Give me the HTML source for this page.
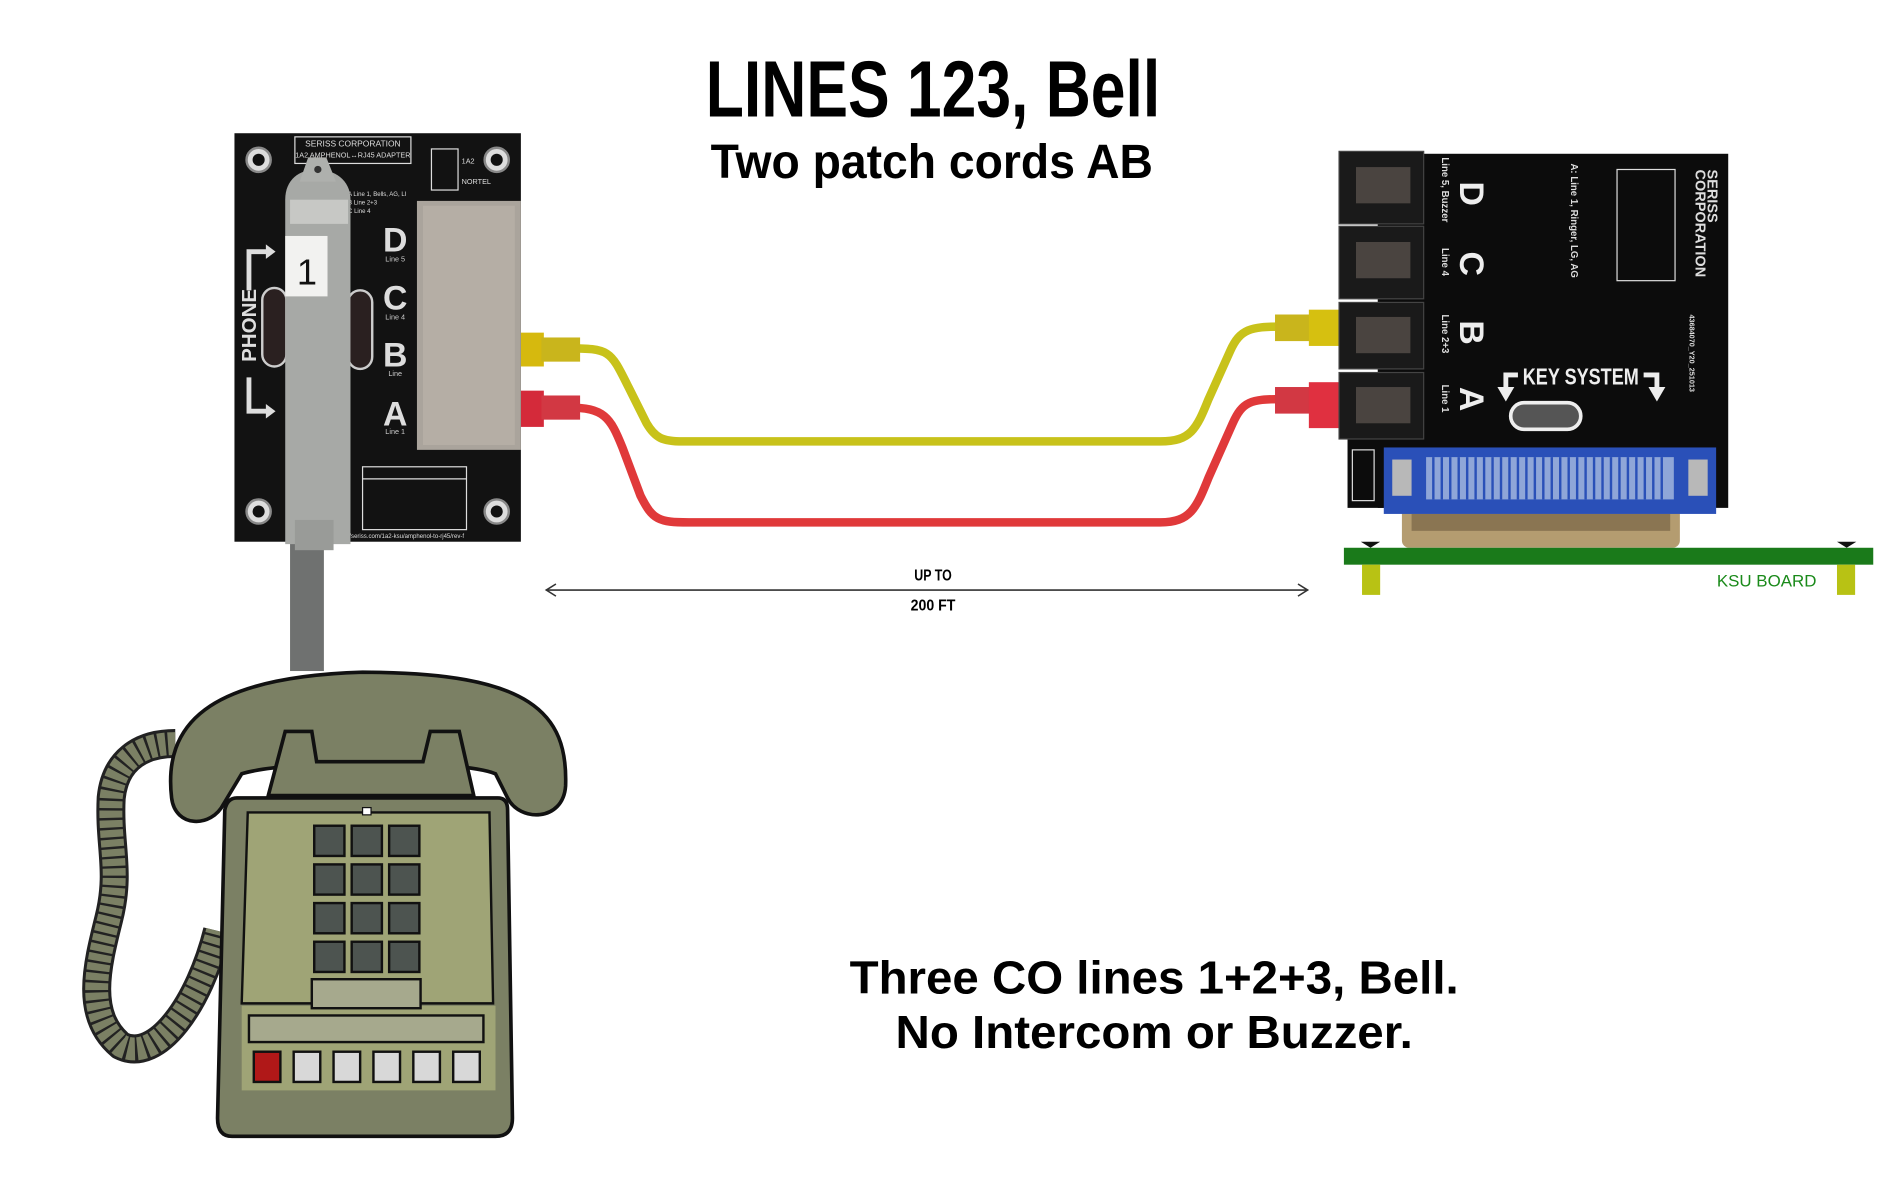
<!DOCTYPE html>
<html><head><meta charset="utf-8"><style>
html,body{margin:0;padding:0;background:#fff;width:1895px;height:1191px;overflow:hidden}
svg{display:block}
text{font-family:"Liberation Sans",sans-serif}
</style></head><body>
<svg width="1895" height="1191" viewBox="0 0 1568 985" xmlns="http://www.w3.org/2000/svg">
<rect width="1568" height="985" fill="#fff"/>
<text x="772" y="96" text-anchor="middle" font-size="66" font-weight="bold" textLength="376" lengthAdjust="spacingAndGlyphs">LINES 123, Bell</text>
<text x="771" y="147" text-anchor="middle" font-size="40" font-weight="bold" textLength="366" lengthAdjust="spacingAndGlyphs">Two patch cords AB</text>

<path d="M470,288 C505,288 505,290 520,320 L535,350 C542,362 548,365 565,365 L960,365 C985,365 990,355 1000,330 L1018,290 C1026,272 1035,270 1060,270 L1080,270" fill="none" stroke="#c8c21a" stroke-width="7"/>
<path d="M470,337 C500,337 505,345 515,370 L530,410 C540,430 545,432 570,432 L960,432 C985,432 990,420 1000,395 L1020,350 C1028,332 1035,330 1060,330 L1080,330" fill="none" stroke="#e0393a" stroke-width="7"/>
<rect x="430" y="275" width="20" height="28" fill="#d6b90e"/>
<rect x="448" y="279" width="32" height="20" fill="#c9b51c"/>
<rect x="430" y="323" width="20" height="30" fill="#d42a3a"/>
<rect x="448" y="327" width="32" height="20" fill="#d23843"/>
<rect x="1055" y="260" width="30" height="22" fill="#c9b51c"/>
<rect x="1083" y="256" width="25" height="30" fill="#d6c010"/>
<rect x="1055" y="320" width="30" height="22" fill="#d23843"/>
<rect x="1083" y="316" width="25" height="38" fill="#e03040"/>

<rect x="194" y="110" width="237" height="338" fill="#121212"/>
<g fill="#ddd" stroke="#888" stroke-width="2">
<circle cx="214" cy="132" r="10"/><circle cx="411" cy="132" r="10"/>
<circle cx="214" cy="423" r="10"/><circle cx="411" cy="423" r="10"/>
</g>
<g fill="#111"><circle cx="214" cy="132" r="5"/><circle cx="411" cy="132" r="5"/><circle cx="214" cy="423" r="5"/><circle cx="411" cy="423" r="5"/></g>
<rect x="244" y="113" width="96" height="22" fill="none" stroke="#ddd" stroke-width="1"/>
<text x="292" y="121" text-anchor="middle" font-size="7" fill="#ddd">SERISS CORPORATION</text>
<text x="292" y="130" text-anchor="middle" font-size="6" fill="#ddd">1A2 AMPHENOL↔RJ45 ADAPTER</text>
<rect x="357" y="123" width="22" height="34" fill="none" stroke="#ddd"/>
<text x="382" y="135" font-size="6" fill="#ddd">1A2</text>
<text x="382" y="152" font-size="6" fill="#ddd">NORTEL</text>
<text x="288" y="162" font-size="5" fill="#ddd">A Line 1, Bells, AG, LI</text>
<text x="288" y="169" font-size="5" fill="#ddd">B Line 2+3</text>
<text x="288" y="176" font-size="5" fill="#ddd">C Line 4</text>
<rect x="217" y="238" width="20" height="65" rx="10" fill="#2a2020" stroke="#ccc" stroke-width="2"/>
<rect x="288" y="240" width="20" height="65" rx="10" fill="#2a2020" stroke="#ccc" stroke-width="2"/>
<text x="218" y="275" font-size="17" font-weight="bold" fill="#ddd" transform="rotate(-90 212 275)" text-anchor="middle">PHONE</text>
<path d="M206,240 V208 H222" fill="none" stroke="#ddd" stroke-width="4"/><path d="M220,202 L228,208 L220,214Z" fill="#ddd"/>
<path d="M206,312 V340 H222" fill="none" stroke="#ddd" stroke-width="4"/><path d="M220,334 L228,340 L220,346Z" fill="#ddd"/>
<g fill="#ddd" font-weight="bold" font-size="28" text-anchor="middle">
<text x="327" y="208">D</text><text x="327" y="256">C</text><text x="327" y="303">B</text><text x="327" y="352">A</text></g>
<g fill="#ccc" font-size="6" text-anchor="middle"><text x="327" y="216">Line 5</text><text x="327" y="264">Line 4</text><text x="327" y="311">Line</text><text x="327" y="359">Line 1</text></g>
<rect x="345" y="166" width="86" height="206" fill="#aaa49c"/>
<rect x="350" y="170" width="76" height="198" fill="#b5aea5"/>
<rect x="300" y="386" width="86" height="52" fill="none" stroke="#ddd"/>
<line x1="300" y1="396" x2="386" y2="396" stroke="#ddd"/>
<text x="278" y="445" font-size="5" fill="#ddd">http://seriss.com/1a2-ksu/amphenol-to-rj45/rev-f</text>
<rect x="240" y="440" width="28" height="115" fill="#6f7170"/>
<path d="M236,450 L236,165 C236,148 248,140 262,140 C276,140 290,148 290,165 L290,450 Z" fill="#a7a9a6"/>
<path d="M248,150 L255,130 L270,130 L278,150 Z" fill="#aeb0ad"/>
<circle cx="263" cy="140" r="3" fill="#333"/>
<rect x="240" y="165" width="48" height="20" fill="#c7c8c5"/>
<rect x="236" y="195" width="35" height="50" fill="#f2f2f0"/>
<text x="254" y="235" text-anchor="middle" font-size="30" fill="#111">1</text>
<rect x="244" y="430" width="32" height="25" fill="#999b98"/>

<rect x="1140" y="127" width="290" height="293" fill="#0c0c0c"/>
<rect x="1115" y="350" width="30" height="70" fill="#0c0c0c"/>
<g fill="#1a1a1a" stroke="#444">
<rect x="1108" y="125" width="70" height="60"/><rect x="1108" y="187" width="70" height="60"/>
<rect x="1108" y="250" width="70" height="55"/><rect x="1108" y="308" width="70" height="55"/></g>
<g fill="#4a4440"><rect x="1122" y="138" width="45" height="30"/><rect x="1122" y="200" width="45" height="30"/><rect x="1122" y="262" width="45" height="30"/><rect x="1122" y="320" width="45" height="30"/></g>
<g fill="#eee" font-weight="bold" font-size="28" text-anchor="middle">
<text transform="translate(1208 160) rotate(90)">D</text>
<text transform="translate(1208 218) rotate(90)">C</text>
<text transform="translate(1208 275) rotate(90)">B</text>
<text transform="translate(1208 330) rotate(90)">A</text></g>
<g fill="#ddd" font-size="8" font-weight="bold">
<text transform="translate(1193 130) rotate(90)">Line 5, Buzzer</text>
<text transform="translate(1193 205) rotate(90)">Line 4</text>
<text transform="translate(1193 260) rotate(90)">Line 2+3</text>
<text transform="translate(1193 318) rotate(90)">Line 1</text>
<text transform="translate(1300 135) rotate(90)">A: Line 1, Ringer, LG, AG</text>
<text transform="translate(1403 140) rotate(90)" font-size="12">CORPORATION</text>
<text transform="translate(1413 140) rotate(90)" font-size="12">SERISS</text>
<text transform="translate(1398 260) rotate(90)" font-size="6">43684070_Y20_251013</text>
</g>
<rect x="1338" y="140" width="48" height="92" fill="none" stroke="#ddd"/>
<text x="1308" y="318" text-anchor="middle" font-size="19" font-weight="bold" fill="#eee" textLength="96" lengthAdjust="spacingAndGlyphs">KEY SYSTEM</text>
<path d="M1256,310 H1246 V323" fill="none" stroke="#eee" stroke-width="4"/><path d="M1239,320 L1246,332 L1253,320Z" fill="#eee"/>
<path d="M1360,310 H1371 V322" fill="none" stroke="#eee" stroke-width="4"/><path d="M1364,320 L1371,332 L1378,320Z" fill="#eee"/>
<rect x="1250" y="333" width="58" height="22" rx="11" fill="#555" stroke="#eee" stroke-width="3"/>
<rect x="1119" y="372" width="18" height="42" fill="none" stroke="#ddd"/>
<rect x="1160" y="418" width="230" height="35" rx="6" fill="#b49c70"/>
<rect x="1168" y="425" width="214" height="14" fill="#8a7552"/>
<rect x="1145" y="370" width="275" height="55" fill="#2a50b8"/>
<rect x="1180" y="378" width="205" height="35" fill="#8fa6d8"/>
<g stroke="#2a50b8" stroke-width="2">
<path d="M1186,378 V413 M1193,378 V413 M1200,378 V413 M1207,378 V413 M1214,378 V413 M1221,378 V413 M1228,378 V413 M1235,378 V413 M1242,378 V413 M1249,378 V413 M1256,378 V413 M1263,378 V413 M1270,378 V413 M1277,378 V413 M1284,378 V413 M1291,378 V413 M1298,378 V413 M1305,378 V413 M1312,378 V413 M1319,378 V413 M1326,378 V413 M1333,378 V413 M1340,378 V413 M1347,378 V413 M1354,378 V413 M1361,378 V413 M1368,378 V413 M1375,378 V413"/></g>
<rect x="1152" y="380" width="16" height="30" fill="#b8b8b8"/><rect x="1397" y="380" width="16" height="30" fill="#b8b8b8"/>
<rect x="1112" y="453" width="438" height="14" fill="#1a7a1a"/>
<rect x="1127" y="467" width="15" height="25" fill="#b8c214"/>
<rect x="1520" y="467" width="15" height="25" fill="#b8c214"/>
<path d="M1126,448 L1142,448 L1134,453Z M1520,448 L1536,448 L1528,453Z" fill="#111"/>
<text x="1503" y="485" text-anchor="end" font-size="14" fill="#1a8a1a">KSU BOARD</text>

<line x1="452" y1="488" x2="1082" y2="488" stroke="#333" stroke-width="1.3"/>
<path d="M460,483 L452,488 L460,493 M1074,483 L1082,488 L1074,493" fill="none" stroke="#333" stroke-width="1.3"/>
<text x="772" y="480" text-anchor="middle" font-size="13" font-weight="bold" textLength="31" lengthAdjust="spacingAndGlyphs">UP TO</text>
<text x="772" y="505" text-anchor="middle" font-size="13" font-weight="bold" textLength="37" lengthAdjust="spacingAndGlyphs">200 FT</text>

<text x="955" y="822" text-anchor="middle" font-size="38" font-weight="bold" textLength="504" lengthAdjust="spacingAndGlyphs">Three CO lines 1+2+3, Bell.</text>
<text x="955" y="867" text-anchor="middle" font-size="38" font-weight="bold" textLength="428" lengthAdjust="spacingAndGlyphs">No Intercom or Buzzer.</text>

<path d="M145,615 C115,615 95,630 92,660 C90,700 100,720 90,760 C80,800 70,840 100,865 C130,880 165,830 180,770" fill="none" stroke="#222" stroke-width="24"/>
<path d="M145,615 C115,615 95,630 92,660 C90,700 100,720 90,760 C80,800 70,840 100,865 C130,880 165,830 180,770" fill="none" stroke="#7b8064" stroke-width="19" stroke-dasharray="6 2"/>
<path d="M142,660 C135,600 170,560 300,556 C440,556 470,590 468,650 C466,680 430,680 420,660 L410,640 C380,628 240,628 200,640 L185,665 C175,685 145,685 142,660Z" fill="#7b8064" stroke="#111" stroke-width="3"/>
<path d="M222,658 L236,605 H258 L262,630 H350 L356,605 H380 L392,658Z" fill="#7b8064" stroke="#111" stroke-width="3"/>
<path d="M196,660 H412 Q420,660 420,670 L424,925 Q424,940 410,940 H192 Q180,940 180,925 L186,670 Q188,660 196,660Z" fill="#7b8064" stroke="#111" stroke-width="3"/>
<path d="M205,672 H405 L408,830 H200Z" fill="#9fa476" stroke="#111" stroke-width="2"/>
<rect x="200" y="832" width="210" height="70" fill="#9fa476"/>
<g fill="#4d5450" stroke="#111" stroke-width="2">
<rect x="260" y="683" width="25" height="25"/><rect x="291" y="683" width="25" height="25"/><rect x="322" y="683" width="25" height="25"/>
<rect x="260" y="715" width="25" height="25"/><rect x="291" y="715" width="25" height="25"/><rect x="322" y="715" width="25" height="25"/>
<rect x="260" y="747" width="25" height="25"/><rect x="291" y="747" width="25" height="25"/><rect x="322" y="747" width="25" height="25"/>
<rect x="260" y="779" width="25" height="25"/><rect x="291" y="779" width="25" height="25"/><rect x="322" y="779" width="25" height="25"/></g>
<rect x="258" y="810" width="90" height="24" fill="#a6a98d" stroke="#111" stroke-width="2"/>
<rect x="206" y="840" width="194" height="22" fill="#a6a98d" stroke="#111" stroke-width="2"/>
<g stroke="#111" stroke-width="2" fill="#d8d8d8">
<rect x="210" y="870" width="22" height="25" fill="#b01818"/><rect x="243" y="870" width="22" height="25"/><rect x="276" y="870" width="22" height="25"/>
<rect x="309" y="870" width="22" height="25"/><rect x="342" y="870" width="22" height="25"/><rect x="375" y="870" width="22" height="25"/></g>
<rect x="300" y="668" width="7" height="6" fill="#fff" stroke="#111"/>
</svg>
</body></html>
